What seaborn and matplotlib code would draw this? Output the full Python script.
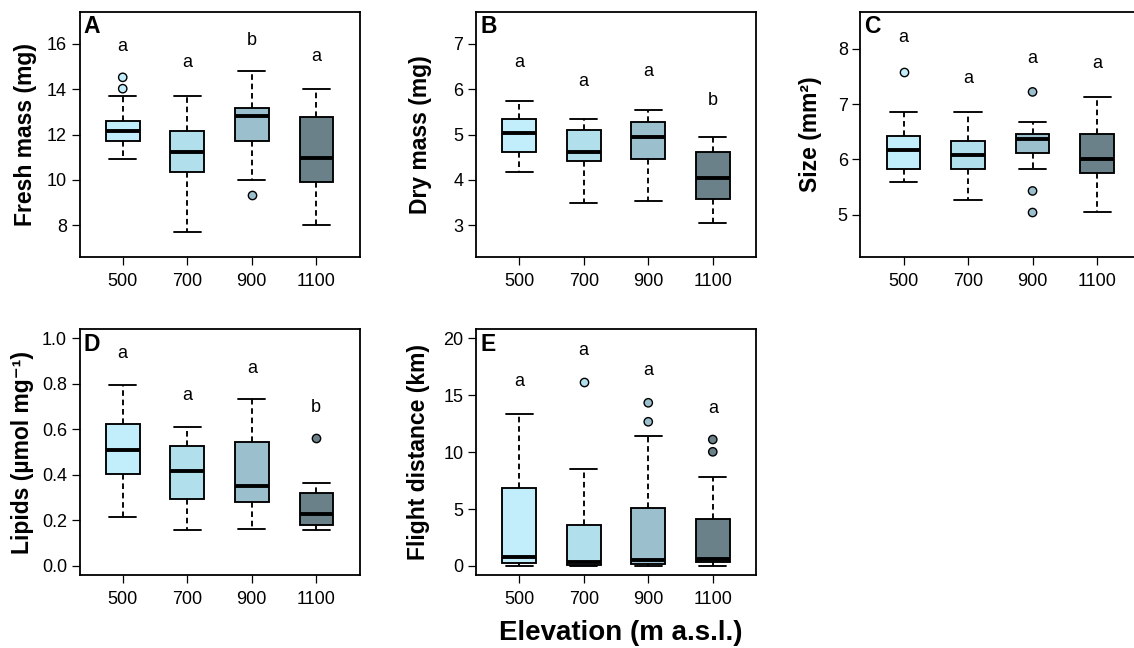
import matplotlib
matplotlib.use("Agg")
import matplotlib.pyplot as plt
import numpy as np
import pandas as pd
import seaborn as sns

# ---------------- data ----------------
elevations = ["500", "700", "900", "1100"]
box_colors = ["#C2EDFB", "#B1DFEC", "#9BBFCC", "#6B8189"]

# five-number summaries per elevation: [lower whisker, Q1, median, Q3, upper whisker]
fresh_stats = [[10.90, 11.70, 12.17, 12.58, 13.71],
               [7.70, 10.35, 11.21, 12.14, 13.71],
               [10.01, 11.70, 12.81, 13.19, 14.81],
               [8.00, 9.91, 10.96, 12.75, 14.00]]
fresh_out_elev = ["500", "500", "900"]
fresh_out_val = [14.02, 14.52, 9.32]
fresh_letters = ["a", "a", "b", "a"]
fresh_letter_y = [15.90, 15.16, 16.14, 15.44]

dry_stats = [[4.18, 4.61, 5.03, 5.35, 5.74],
             [3.48, 4.41, 4.62, 5.09, 5.34],
             [3.54, 4.47, 4.95, 5.28, 5.55],
             [3.06, 3.58, 4.05, 4.61, 4.95]]
dry_out_elev = []
dry_out_val = []
dry_letters = ["a", "a", "a", "b"]
dry_letter_y = [6.59, 6.17, 6.39, 5.75]

size_stats = [[5.59, 5.83, 6.17, 6.42, 6.86],
              [5.27, 5.83, 6.08, 6.33, 6.86],
              [5.83, 6.12, 6.36, 6.46, 6.68],
              [5.05, 5.75, 6.00, 6.46, 7.12]]
size_out_elev = ["500", "900", "900", "900"]
size_out_val = [7.58, 7.22, 5.43, 5.04]
size_letters = ["a", "a", "a", "a"]
size_letter_y = [8.20, 7.47, 7.83, 7.74]

lipid_stats = [[0.214, 0.406, 0.509, 0.623, 0.795],
               [0.156, 0.293, 0.418, 0.526, 0.611],
               [0.164, 0.281, 0.352, 0.543, 0.733],
               [0.157, 0.179, 0.227, 0.320, 0.365]]
lipid_out_elev = ["1100"]
lipid_out_val = [0.563]
lipid_letters = ["a", "a", "a", "b"]
lipid_letter_y = [0.934, 0.751, 0.868, 0.697]

flight_stats = [[0.0, 0.25, 0.75, 6.86, 13.37],
                [0.0, 0.10, 0.35, 3.58, 8.56],
                [0.0, 0.20, 0.55, 5.10, 11.38],
                [0.0, 0.30, 0.60, 4.08, 7.83]]
flight_out_elev = ["700", "900", "900", "1100", "1100"]
flight_out_val = [16.13, 12.67, 14.34, 10.03, 11.11]
flight_letters = ["a", "a", "a", "a"]
flight_letter_y = [16.19, 18.90, 17.16, 13.84]

# ---------------- style ----------------
sns.set_style("ticks")
plt.rcParams["font.family"] = ["Liberation Sans", "DejaVu Sans"]
plt.rcParams["text.color"] = "black"
plt.rcParams["axes.labelcolor"] = "black"
plt.rcParams["xtick.color"] = "black"
plt.rcParams["ytick.color"] = "black"

W, H = 1134, 648
fig = plt.figure(figsize=(W / 100, H / 100), dpi=100)


def px_axes(x, y, w, h):
    return fig.add_axes([x / W, 1 - (y + h) / H, w / W, h / H])


panels = [
    dict(pos=(79.5, 12, 280, 245), stats=fresh_stats, oe=fresh_out_elev, ov=fresh_out_val,
         letters=fresh_letters, ly=fresh_letter_y, ylim=(6.6, 17.4), yticks=[8, 10, 12, 14, 16],
         fmt="{:.0f}", ylabel="Fresh mass (mg)", tag="A", lab=-54),
    dict(pos=(476, 12, 280, 245), stats=dry_stats, oe=dry_out_elev, ov=dry_out_val,
         letters=dry_letters, ly=dry_letter_y, ylim=(2.3, 7.7), yticks=[3, 4, 5, 6, 7],
         fmt="{:.0f}", ylabel="Dry mass (mg)", tag="B", lab=-56),
    dict(pos=(860.3, 12, 280, 245), stats=size_stats, oe=size_out_elev, ov=size_out_val,
         letters=size_letters, ly=size_letter_y, ylim=(4.236, 8.664), yticks=[5, 6, 7, 8],
         fmt="{:.0f}", ylabel="Size (mm²)", tag="C", lab=-50),
    dict(pos=(79.5, 329.3, 280, 245.7), stats=lipid_stats, oe=lipid_out_elev, ov=lipid_out_val,
         letters=lipid_letters, ly=lipid_letter_y, ylim=(-0.04, 1.04),
         yticks=[0.0, 0.2, 0.4, 0.6, 0.8, 1.0],
         fmt="{:.1f}", ylabel="Lipids (µmol mg⁻¹)", tag="D", lab=-57),
    dict(pos=(476, 329.3, 280, 245.7), stats=flight_stats, oe=flight_out_elev, ov=flight_out_val,
         letters=flight_letters, ly=flight_letter_y, ylim=(-0.8, 20.8), yticks=[0, 5, 10, 15, 20],
         fmt="{:.0f}", ylabel="Flight distance (km)", tag="E", lab=-58),
]

for p in panels:
    ax = px_axes(*p["pos"])
    df = pd.DataFrame({"elev": np.repeat(elevations, 5),
                       "value": np.concatenate(p["stats"])})
    sns.boxplot(data=df, x="elev", y="value", order=elevations, hue="elev",
                hue_order=elevations, palette=box_colors, saturation=1, width=0.52,
                whis=(0, 100), showfliers=False, linecolor="black", linewidth=1.35,
                legend=False, ax=ax,
                medianprops=dict(linewidth=2.8),
                whiskerprops=dict(linestyle=(0, (3.0, 2.0))),
                capwidths=0.42)
    if len(p["ov"]):
        sns.stripplot(x=p["oe"], y=p["ov"], order=elevations, hue=p["oe"],
                      hue_order=elevations, palette=box_colors, jitter=False, size=6.0,
                      edgecolor="black", linewidth=1.0, legend=False, ax=ax, zorder=5)
    for i, (l, yv) in enumerate(zip(p["letters"], p["ly"])):
        ax.text(i, yv, l, ha="center", va="center", fontsize=13, color="black")

    ax.set_xlim(-0.67, 3.67)
    ax.set_ylim(*p["ylim"])
    ax.set_yticks(p["yticks"])
    ax.set_yticklabels([p["fmt"].format(v) for v in p["yticks"]])
    ax.set_xticks(range(4))
    ax.set_xticklabels(elevations)
    ax.set_xlabel("")
    ax.set_ylabel(p["ylabel"], fontsize=16.5, fontweight="bold", va="center",
                  color="black")
    ax.yaxis.set_label_coords(p["lab"] / p["pos"][2], 0.5)
    for s in ax.spines.values():
        s.set_visible(True)
        s.set_linewidth(1.3)
        s.set_color("black")
    ax.tick_params(direction="out", length=6, width=0.9, labelsize=13,
                   colors="black")
    ax.tick_params(axis="x", pad=5.5)
    ax.tick_params(axis="y", pad=3)
    ax.text(4 / p["pos"][2], 0.94, p["tag"], transform=ax.transAxes, ha="left",
            va="center", fontsize=16.5, fontweight="bold", color="black")

fig.text(621 / W, 1 - 633 / H, "Elevation (m a.s.l.)", ha="center", va="center",
         fontsize=20, fontweight="bold", color="black")

fig.savefig("out.png", dpi=100)
